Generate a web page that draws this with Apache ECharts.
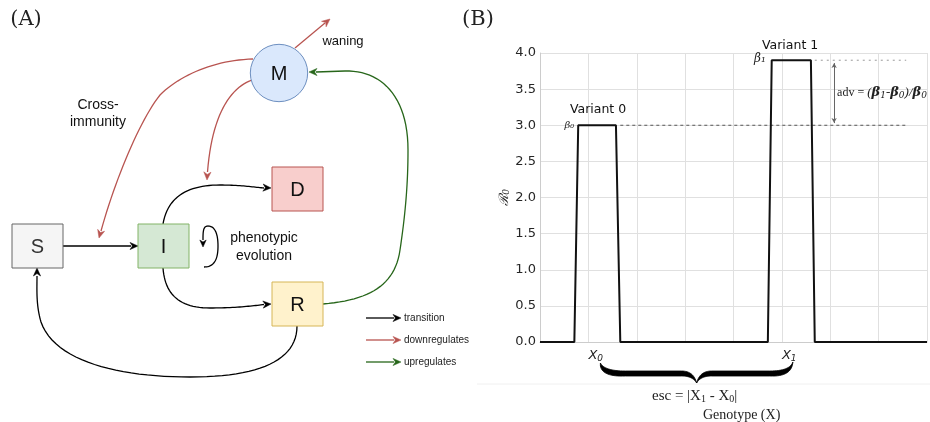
<!DOCTYPE html>
<html><head><meta charset="utf-8">
<script src="https://cdn.jsdelivr.net/npm/echarts@6/dist/echarts.min.js"></script>
<style>html,body{margin:0;padding:0;background:#fff}#c{width:930px;height:422px}</style>
</head><body><div id="c"></div>
<script>
// ---- data (panel B) ----
const genotype = [0, 0.71, 0.79, 1.57, 1.66, 4.71, 4.79, 5.6, 5.68, 8];
const r0Values = [0, 0, 3.0, 3.0, 0, 0, 3.9, 3.9, 0, 0];
const beta0 = 3.0, beta1 = 3.9;
const xTickLabels = {1: '0', 5: '1'};
const yTickLabels = ['0.0','0.5','1.0','1.5','2.0','2.5','3.0','3.5','4.0'];
const beta0Ref = [[1.66, beta0], [7.57, beta0]];
const beta1Ref = [[5.68, beta1], [7.57, beta1]];
const advSpan = [[6.08, 3.03], [6.08, 3.86]];
const variantLabels = [['Variant 0', 1.2, 3.21], ['Variant 1', 5.17, 4.1]];
// ---- legend labels (panel A) ----
const legendItems = [['transition', '#000000'], ['downregulates', '#b85450'], ['upregulates', '#27661a']];

const chart = echarts.init(document.getElementById('c'), null, {renderer: 'canvas'});
const FS = 'DejaVu Sans';
chart.setOption({
  animation: false,
  grid: {left: 540, top: 53, width: 387, height: 289},
  xAxis: {type: 'value', min: 0, max: 8, interval: 1,
    axisLine: {show: true, onZero: false, lineStyle: {color: '#cccccc'}},
    axisTick: {show: false},
    splitLine: {show: true, lineStyle: {color: '#e0e0e0', width: 1}},
    axisLabel: {margin: 6, align: 'left', color: '#222',
      formatter: v => xTickLabels[v] ? '{x|X}{s|' + xTickLabels[v] + '}' : '',
      rich: {x: {fontFamily: FS, fontStyle: 'italic', fontSize: 13, color: '#222'},
        s: {fontFamily: FS, fontStyle: 'italic', fontSize: 9, color: '#222', padding: [6, 0, 0, 0]}}}},
  yAxis: {type: 'value', min: 0, max: 4, interval: 0.5,
    name: '{r|ℛ}{s|0}', nameLocation: 'middle', nameGap: 28, nameRotate: 90,
    nameTextStyle: {rich: {r: {fontFamily: 'DejaVu Serif', fontStyle: 'italic', fontSize: 13, color: '#222'},
      s: {fontFamily: 'DejaVu Serif', fontStyle: 'italic', fontSize: 9, color: '#222', padding: [5, 0, 0, 0]}}},
    axisLine: {show: true, lineStyle: {color: '#cccccc'}},
    axisTick: {show: false},
    splitLine: {show: true, lineStyle: {color: '#e0e0e0', width: 1}},
    axisLabel: {margin: 4, fontFamily: FS, fontSize: 13, color: '#262626',
      formatter: v => yTickLabels[Math.round(v / 0.5)]}},
  series: [
    {type: 'line', data: beta0Ref, symbol: 'none', silent: true,
      lineStyle: {color: '#555', width: 1, type: [3, 3]}},
    {type: 'line', data: beta1Ref, symbol: 'none', silent: true,
      lineStyle: {color: '#999', width: 1, type: [2, 4]}},
    {type: 'line', data: genotype.map((g, i) => [g, r0Values[i]]), symbol: 'none', silent: true,
      lineStyle: {color: '#111', width: 2}, z: 5,
      markLine: {silent: true, symbol: ['arrow', 'arrow'], symbolSize: [4, 5],
        label: {show: false}, lineStyle: {color: '#666', width: 1, type: 'solid'},
        data: [[{coord: advSpan[0]}, {coord: advSpan[1]}]]}}
  ]
});

const px = (x, y) => chart.convertToPixel({gridIndex: 0}, [x, y]);
const G = [];
function samplePath(d) {
  const tk = d.match(/[MLCQZ]|-?\d*\.?\d+/g);
  const pts = []; let i = 0, cmd = '', cx = 0, cy = 0;
  const num = () => parseFloat(tk[i++]);
  while (i < tk.length) {
    if (/[MLCQZ]/.test(tk[i])) { cmd = tk[i++]; if (cmd === 'Z') continue; }
    if (cmd === 'M' || cmd === 'L') { cx = num(); cy = num(); pts.push([cx, cy]); }
    else if (cmd === 'C') {
      const x1 = num(), y1 = num(), x2 = num(), y2 = num(), x3 = num(), y3 = num();
      for (let k = 1; k <= 24; k++) { const t = k / 24, u = 1 - t;
        pts.push([u*u*u*cx + 3*u*u*t*x1 + 3*u*t*t*x2 + t*t*t*x3, u*u*u*cy + 3*u*u*t*y1 + 3*u*t*t*y2 + t*t*t*y3]); }
      cx = x3; cy = y3;
    } else if (cmd === 'Q') {
      const x1 = num(), y1 = num(), x2 = num(), y2 = num();
      for (let k = 1; k <= 16; k++) { const t = k / 16, u = 1 - t;
        pts.push([u*u*cx + 2*u*t*x1 + t*t*x2, u*u*cy + 2*u*t*y1 + t*t*y2]); }
      cx = x2; cy = y2;
    } else { i++; }
  }
  return pts;
}
function txt(x, y, s, o) {
  G.push({type: 'text', x: x, y: y, silent: true, z: 10,
    style: Object.assign({text: s, fill: '#111', font: '14px "Liberation Sans"', align: 'center', verticalAlign: 'middle'}, o || {})});
}
function pth(d, c, w) {
  G.push({type: 'polyline', silent: true, shape: {points: samplePath(d)}, style: {fill: null, stroke: c, lineWidth: w || 1.3}});
}
function head(x, y, a, c, L, W) {
  L = L || 8; W = W || 3.6;
  const co = Math.cos(a), si = Math.sin(a);
  const bx = x - L * co, by = y - L * si, nx = x - L * 0.7 * co, ny = y - L * 0.7 * si;
  G.push({type: 'polygon', silent: true, shape: {points: [[x, y], [bx - W * si, by + W * co], [nx, ny], [bx + W * si, by - W * co]]},
    style: {fill: c, stroke: c, lineWidth: 0.5}});
}
function box(x, y, w, h, fill, stroke, label, lc) {
  G.push({type: 'rect', silent: true, shape: {x: x, y: y, width: w, height: h}, style: {fill: fill, stroke: stroke, lineWidth: 1}});
  txt(x + w / 2, y + h / 2 + 1, label, {font: '20px "Liberation Sans"', fill: lc || '#111'});
}
const RED = '#b85450', GRN = legendItems[2][1];

// ---- panel A ----
txt(26, 20, '(A)', {font: '21px "DejaVu Serif"', fill: '#222'});
pth('M63 246 L131 246', '#000'); head(138, 246, 0, '#000');
pth('M163 224 C168 195 190 185 220 185 C240 185 253 187 264 188', '#000'); head(271, 188, 0.05, '#000');
pth('M163 268 C165 295 180 308 210 308 C235 308 252 306 264 304.5', '#000'); head(271, 304, -0.07, '#000');
pth('M297 326 C297 360 260 377 190 377 C120 377 55 362 41 322 C36 305 37 290 37 276', '#000'); head(37, 268, -Math.PI / 2, '#000');
pth('M204 267 C215 267 218 258 218 246 C218 232 214 226 208 226 C203 226 203 232 203 240', '#000'); head(203, 247, Math.PI / 2, '#000', 7, 3.2);
pth('M253 59 C215 60 180 75 160 95 C140 120 115 180 101 231', RED); head(99, 238, 1.84, RED);
pth('M252 80 C230 88 212 115 207.5 172', RED); head(207, 180, 1.62, RED);
pth('M295 48 L325 23', RED); head(330, 19, -0.69, RED);
pth('M323 304 C370 300 395 285 400 250 C406 210 408 180 408 150 C408 95 380 70 345 71 L316 72', GRN); head(309, 72, Math.PI, GRN);
G.push({type: 'circle', silent: true, shape: {cx: 279, cy: 73, r: 28.7}, style: {fill: '#dae8fc', stroke: '#6c8ebf', lineWidth: 1}});
txt(279, 74, 'M', {font: '20px "Liberation Sans"'});
box(272, 167, 51, 44, '#f8cecc', '#b85450', 'D');
box(12, 224, 51, 44, '#f5f5f5', '#666666', 'S', '#333');
box(138, 224, 51, 44, '#d5e8d4', '#82b366', 'I');
box(272, 282, 51, 44, '#fff2cc', '#d6b656', 'R');
txt(98, 105, 'Cross-'); txt(98, 122, 'immunity');
txt(264, 238, 'phenotypic'); txt(264, 256, 'evolution');
txt(343, 41, 'waning', {font: '13px "Liberation Sans"'});
legendItems.forEach((it, i) => {
  const y = 318 + i * 22;
  pth('M366 ' + y + ' L394 ' + y, it[1], 1.3); head(401, y, 0, it[1], 8, 3.6);
  txt(404, y, it[0], {font: '10px "Liberation Sans"', align: 'left', fill: '#222'});
});

// ---- panel B annotations ----
txt(478, 20, '(B)', {font: '21px "DejaVu Serif"', fill: '#222'});
variantLabels.forEach(v => { const p = px(v[1], v[2]); txt(p[0], p[1], v[0], {font: '12.5px "DejaVu Sans"', fill: '#111'}); });
let p0 = px(genotype[2], beta0), p1 = px(genotype[6], beta1);
txt(p0[0] - 4, p0[1], 'β₀', {font: 'italic 10px "DejaVu Serif"', align: 'right', fill: '#222'});
txt(p1[0] - 6, p1[1] - 1, 'β₁', {font: 'italic 12px "DejaVu Serif"', align: 'right', fill: '#222'});
const pa = px(advSpan[0][0], (beta0 + beta1) / 2);
G.push({type: 'text', silent: true, x: pa[0] + 3, y: pa[1], style: {
  text: '{n|adv = }{i|(}{b|β}{s|1}{i|-}{b|β}{s|0}{i|)/}{b|β}{s|0}',
  verticalAlign: 'middle', align: 'left',
  rich: {n: {fontFamily: 'Liberation Serif', fontSize: 12, fill: '#222'},
    i: {fontFamily: 'Liberation Serif', fontStyle: 'italic', fontSize: 13, fill: '#222'},
    b: {fontFamily: 'DejaVu Serif', fontStyle: 'italic', fontWeight: 'bold', fontSize: 13, fill: '#222'},
    s: {fontFamily: 'DejaVu Serif', fontStyle: 'italic', fontSize: 9, fill: '#222', padding: [5, 0, 0, 0]}}}});
const bx0 = px(1, 0)[0] + 12, bx1 = px(5, 0)[0] + 11, by = px(1, 0)[1];
const bm = (bx0 + bx1) / 2, t = by + 29, b = by + 34, tip = by + 41;
G.push({type: 'polygon', silent: true, shape: {points: samplePath(
  `M${bx0} ${by + 21} Q${bx0 + 4} ${t} ${bx0 + 25} ${t} L${bm - 15} ${t} Q${bm - 3} ${t} ${bm} ${tip}` +
  ` Q${bm + 3} ${t} ${bm + 15} ${t} L${bx1 - 23} ${t} Q${bx1 - 3} ${t} ${bx1} ${by + 20}` +
  ` Q${bx1 - 1} ${b + 1} ${bx1 - 23} ${b} L${bm + 15} ${b} Q${bm + 4} ${b} ${bm} ${tip} Q${bm - 4} ${b} ${bm - 15} ${b}` +
  ` L${bx0 + 25} ${b} Q${bx0 + 2} ${b + 1} ${bx0} ${by + 24} Z`)}, style: {fill: '#000', stroke: '#000', lineWidth: 0.8}});
G.push({type: 'line', silent: true, shape: {x1: 477, y1: by + 42, x2: 930, y2: by + 42}, style: {stroke: '#f0f0f0', lineWidth: 1}});
G.push({type: 'text', silent: true, x: bm - 2, y: by + 54, style: {
  text: '{n|esc = |X}{s|1}{n| - X}{s|0}{n||}', align: 'center', verticalAlign: 'middle',
  rich: {n: {fontFamily: 'Liberation Serif', fontSize: 15, fill: '#222'},
    s: {fontFamily: 'Liberation Serif', fontSize: 10, fill: '#222', padding: [6, 0, 0, 0]}}}});
txt(bm + 45, by + 73, 'Genotype (X)', {font: '14px "Liberation Serif"', fill: '#222'});

chart.setOption({graphic: {elements: G}});
</script></body></html>
